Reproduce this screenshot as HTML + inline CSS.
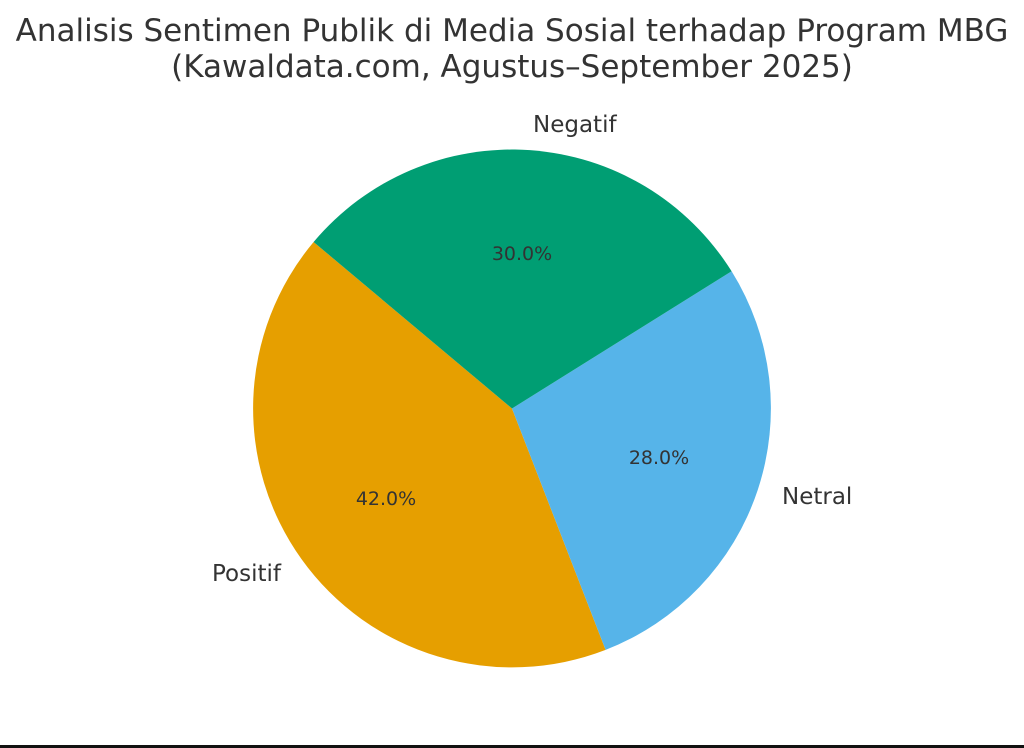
<!DOCTYPE html>
<html><head><meta charset="utf-8"><style>
body{margin:0;background:#fff;}
svg{display:block;}
text{font-family:"DejaVu Sans","Liberation Sans",sans-serif;fill:#333;}
</style></head><body>
<svg width="1024" height="748" viewBox="0 0 1024 748" xmlns="http://www.w3.org/2000/svg">
<rect width="1024" height="748" fill="#fff"/>
<text x="512" y="41" font-size="31" text-anchor="middle">Analisis Sentimen Publik di Media Sosial terhadap Program MBG</text>
<text x="512" y="77" font-size="31" text-anchor="middle">(Kawaldata.com, Agustus–September 2025)</text>
<g>
<path d="M512,408.5 L313.6,242 A259,259 0 0 0 605.6,649.9 Z" fill="#E69F00"/>
<path d="M512,408.5 L605.6,649.9 A259,259 0 0 0 731.6,271.3 Z" fill="#56B4E9"/>
<path d="M512,408.5 L731.6,271.3 A259,259 0 0 0 313.6,242 Z" fill="#009E73"/>
</g>
<text x="522" y="260" font-size="19" text-anchor="middle">30.0%</text>
<text x="659" y="464" font-size="19" text-anchor="middle">28.0%</text>
<text x="386" y="505" font-size="19" text-anchor="middle">42.0%</text>
<text x="533" y="132" font-size="23">Negatif</text>
<text x="782" y="504" font-size="23">Netral</text>
<text x="281" y="581" font-size="23" text-anchor="end">Positif</text>
<rect x="0" y="745" width="1024" height="3" fill="#111"/>
</svg>
</body></html>
